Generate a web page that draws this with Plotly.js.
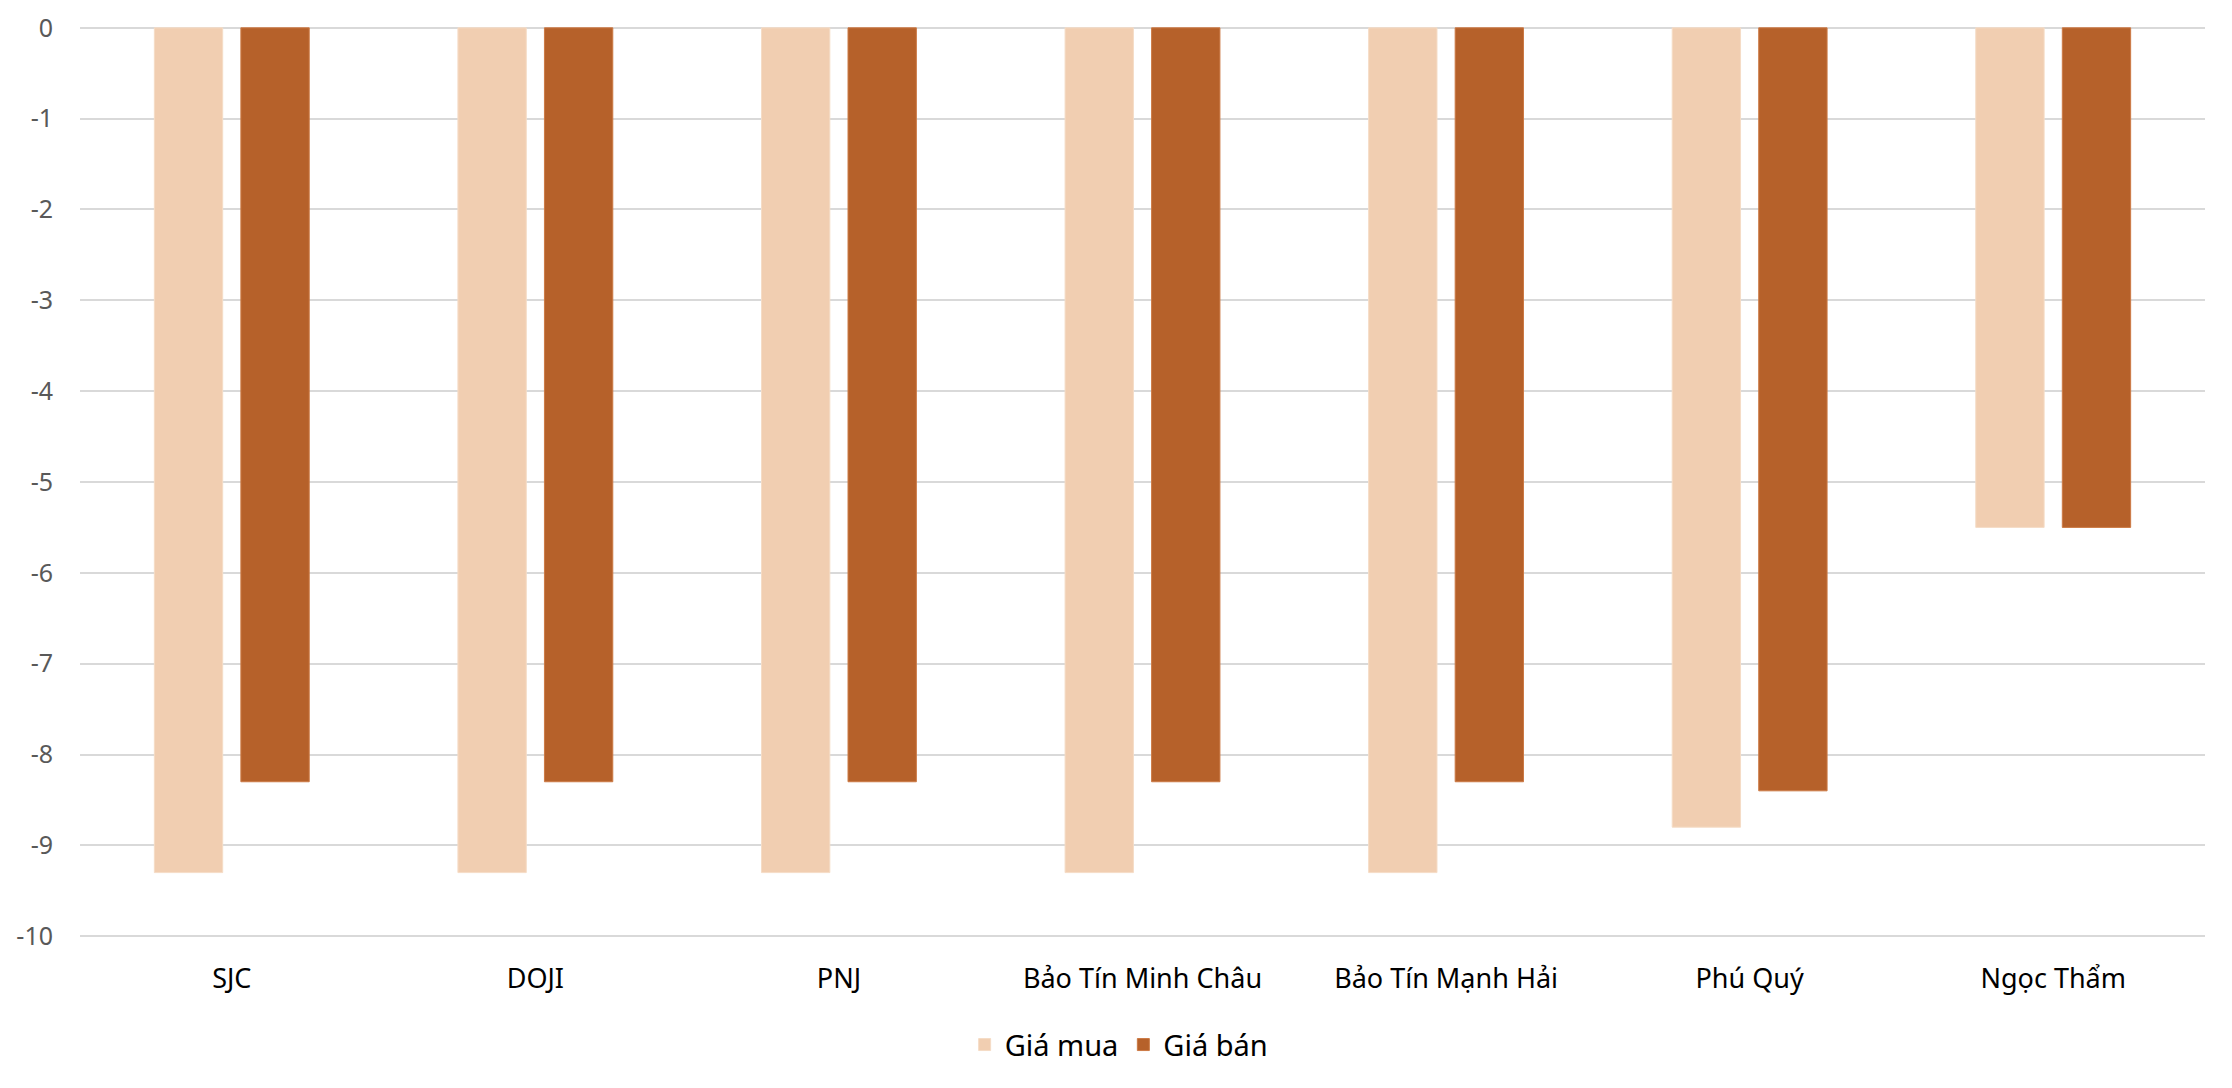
<!DOCTYPE html>
<html>
<head>
<meta charset="utf-8">
<script src="https://cdn.plot.ly/plotly-3.0.1.min.js"></script>
<style>html,body{margin:0;padding:0;background:#fff;}#chart{width:2232px;height:1088px;}</style>
</head>
<body>
<div id="chart"></div>
<script>
const categories = ["SJC", "DOJI", "PNJ", "Bảo Tín Minh Châu", "Bảo Tín Mạnh Hải", "Phú Quý", "Ngọc Thẩm"];
const giaMua = [-9.3, -9.3, -9.3, -9.3, -9.3, -8.8, -5.5];
const giaBan = [-8.3, -8.3, -8.3, -8.3, -8.3, -8.4, -5.5];
const seriesNames = ["Giá mua", "Giá bán"];
const yTicks = [0, -1, -2, -3, -4, -5, -6, -7, -8, -9, -10];

const data = [
  {type: "bar", x: categories, y: giaMua, name: seriesNames[0],
   marker: {color: "#F1CEB1", line: {color: "#F5DCC6", width: 1}}},
  {type: "bar", x: categories, y: giaBan, name: seriesNames[1],
   marker: {color: "#B6612A", line: {color: "#CC7A45", width: 1}}}
];

const layout = {
  width: 2232, height: 1088,
  margin: {l: 80, r: 27, t: 26, b: 150},
  paper_bgcolor: "#fff", plot_bgcolor: "#fff",
  font: {family: "Noto Sans, Open Sans, sans-serif", size: 24, color: "#000"},
  barmode: "group", bargap: 0.43, bargroupgap: 0.21,
  showlegend: true,
  legend: {orientation: "h", x: 0.489, xanchor: "center", y: -0.117, yanchor: "middle",
           font: {size: 29, color: "#000"}, traceorder: "normal", itemwidth: 30},
  xaxis: {type: "category", showgrid: false, zeroline: false, showline: false, ticks: "",
          tickfont: {size: 27, color: "#000"}, ticklabelstandoff: 22, fixedrange: true},
  yaxis: {range: [-10.02, 0.02], tickvals: yTicks, ticktext: yTicks.map(String),
          showgrid: true, gridcolor: "#D9D9D9", gridwidth: 2, zeroline: false, showline: false,
          ticks: "", tickfont: {size: 25, color: "#595959"}, ticklabelstandoff: 26, fixedrange: true}
};

Plotly.newPlot("chart", data, layout, {displayModeBar: false, staticPlot: true});
</script>
</body>
</html>
